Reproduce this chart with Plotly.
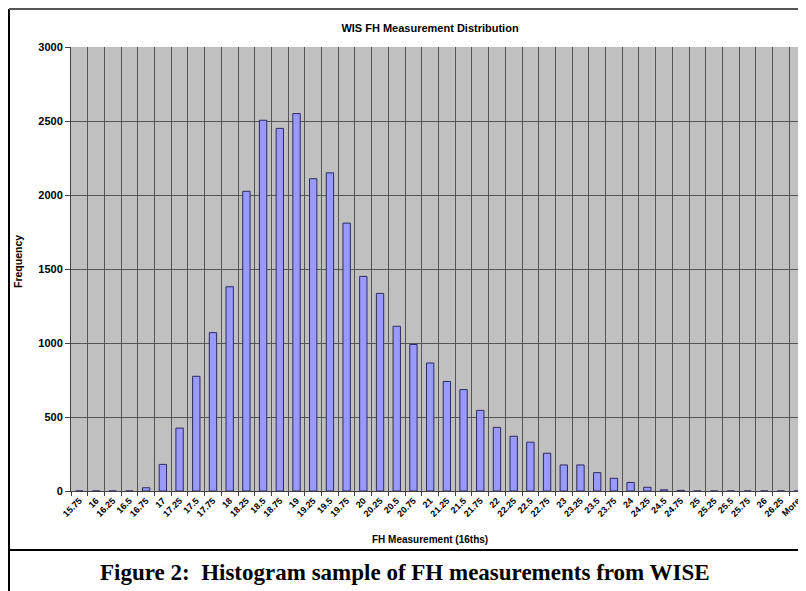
import plotly.graph_objects as go

# Histogram bins (16ths) and frequencies
bins = ['15.75', '16', '16.25', '16.5', '16.75', '17', '17.25', '17.5', '17.75',
        '18', '18.25', '18.5', '18.75', '19', '19.25', '19.5', '19.75', '20',
        '20.25', '20.5', '20.75', '21', '21.25', '21.5', '21.75', '22', '22.25',
        '22.5', '22.75', '23', '23.25', '23.5', '23.75', '24', '24.25', '24.5',
        '24.75', '25', '25.25', '25.5', '25.75', '26', '26.25', 'More']
frequency = [0, 0, 0, 0, 22, 180, 425, 775, 1070,
             1380, 2025, 2505, 2450, 2550, 2110, 2150, 1810, 1450,
             1335, 1113, 990, 865, 740, 685, 545, 430, 370,
             330, 255, 176, 176, 124, 86, 58, 25, 8,
             4, 0, 0, 0, 0, 0, 0, 0]

# the page body adds an 8px margin, so the figure is 8px smaller than the window
OFF = 8
W, H = 806 - OFF, 591 - OFF
ML, MR, MT, MB = 71 - OFF, 0, 47 - OFF, 100


def px_x(px):
    # screen column -> paper x
    return (px - OFF - ML) / (W - ML - MR)


def px_y(py):
    # screen row -> paper y
    return 1 - (py - OFF - MT) / (H - MT - MB)


fig = go.Figure()
fig.add_trace(go.Bar(
    x=bins,
    y=frequency,
    marker=dict(color='#9999FF', line=dict(color='#2b2b5e', width=1)),
    width=0.44,
    showlegend=False
))

ARIAL = 'Arial, Liberation Sans, sans-serif'

fig.update_layout(
    width=W,
    height=H,
    margin=dict(l=ML, r=MR, t=MT, b=MB),
    paper_bgcolor='white',
    plot_bgcolor='#C0C0C0',
    title=dict(
        text='<b>WIS FH Measurement Distribution</b>',
        x=(430 - OFF) / W, xref='container', xanchor='center',
        y=1 - (28 - OFF) / H, yref='container', yanchor='middle',
        font=dict(family=ARIAL, size=11, color='#000000')
    ),
    xaxis=dict(
        type='category',
        range=[-0.5, len(bins) - 0.5],
        tickson='boundaries',
        ticks='outside',
        ticklen=4,
        tickcolor='#404040',
        tickangle=-45,
        tickfont=dict(family=ARIAL, size=9, color='#000000', weight='bold'),
        showgrid=True,
        gridcolor='#555555',
        gridwidth=1,
        showline=True,
        linecolor='#404040',
        linewidth=1,
        zeroline=False,
        fixedrange=True
    ),
    yaxis=dict(
        range=[0, 3000],
        dtick=500,
        ticks='outside',
        ticklen=5,
        tickcolor='#404040',
        tickfont=dict(family=ARIAL, size=11, color='#000000', weight='bold'),
        showgrid=True,
        gridcolor='#555555',
        gridwidth=1,
        showline=True,
        linecolor='#404040',
        linewidth=1,
        zeroline=False,
        fixedrange=True
    ),
    annotations=[
        dict(text='<b>Frequency</b>', x=px_x(18), y=px_y(262), xref='paper', yref='paper',
             textangle=-90, showarrow=False, xanchor='center', yanchor='middle',
             font=dict(family=ARIAL, size=10.5, color='#000000')),
        dict(text='<b>FH Measurement (16ths)</b>', x=px_x(430), y=px_y(539), xref='paper', yref='paper',
             showarrow=False, xanchor='center', yanchor='middle',
             font=dict(family=ARIAL, size=10, color='#000000')),
        dict(text='<b>Figure 2:  Histogram sample of FH measurements from WISE</b>',
             x=px_x(405), y=px_y(572), xref='paper', yref='paper',
             showarrow=False, xanchor='center', yanchor='middle',
             font=dict(family='Liberation Serif, Times New Roman, serif', size=23, color='#000000')),
    ],
    shapes=[
        # document frame and separator under the chart
        dict(type='line', xref='paper', yref='paper', x0=px_x(9), x1=px_x(9), y0=px_y(9), y1=px_y(600),
             line=dict(color='black', width=2)),
        dict(type='line', xref='paper', yref='paper', x0=px_x(9), x1=px_x(815), y0=px_y(9), y1=px_y(9),
             line=dict(color='#555555', width=2)),
        dict(type='line', xref='paper', yref='paper', x0=px_x(9), x1=px_x(815), y0=px_y(550), y1=px_y(550),
             line=dict(color='black', width=2)),
    ]
)

fig.write_html("out.html")
